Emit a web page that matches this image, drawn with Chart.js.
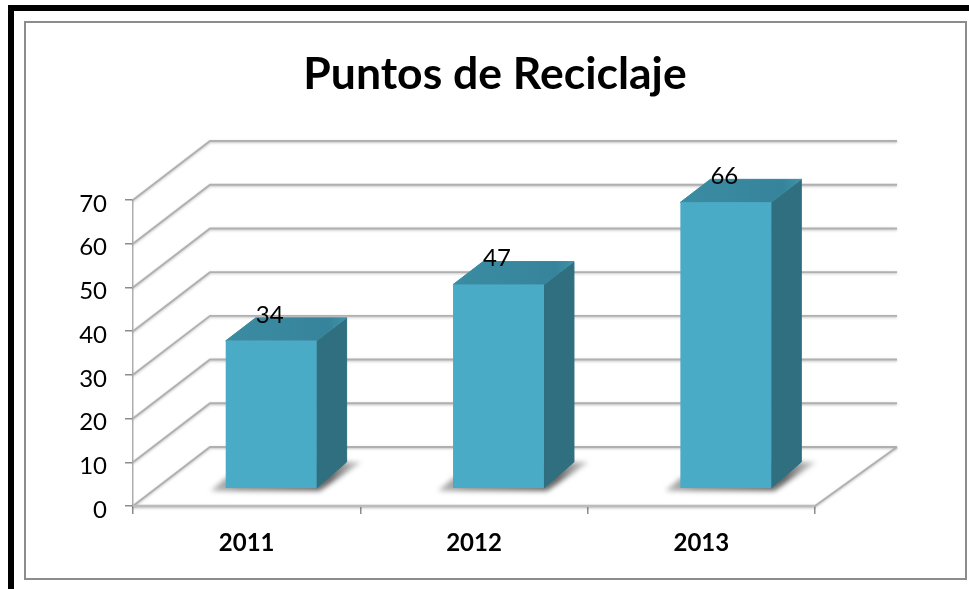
<!DOCTYPE html>
<html>
<head>
<meta charset="utf-8">
<style>
html,body{margin:0;padding:0;background:#fff;width:969px;height:589px;overflow:hidden}
#outerTop{position:absolute;left:8px;top:5px;width:961px;height:6px;background:#000}
#outerLeft{position:absolute;left:8px;top:5px;width:6px;height:584px;background:#000}
#frame{position:absolute;left:24px;top:21px;width:939px;height:555px;border:2px solid #8c8c8c}
canvas{position:absolute;left:0;top:0;display:block}
</style>
</head>
<body>
<div id="outerTop"></div><div id="outerLeft"></div><div id="frame"></div>
<canvas id="c" width="969" height="589"></canvas>
<script src="https://cdn.jsdelivr.net/npm/chart.js@4/dist/chart.umd.min.js"></script>
<script>
const categories = ['2011', '2012', '2013'];
const values = [34, 47, 66];
const chartTitle = 'Puntos de Reciclaje';

const FONT = 'Lato, Carlito, sans-serif';
const WALL = {left: 77, right: 82, up: 59};
const PLANE = {x: 24.5, y: -18};
const DEPTH = {x: 30, top: 23, bottom: 26};

const wallPlugin = {
  id: 'wall',
  beforeDatasetsDraw(chart) {
    const ctx = chart.ctx, a = chart.chartArea, y = chart.scales.y;
    ctx.save();
    ctx.lineWidth = 1.9;
    ctx.strokeStyle = '#b0b0b0';
    ctx.shadowColor = 'rgba(0,0,0,0.25)';
    ctx.shadowBlur = 2.5;
    ctx.shadowOffsetY = 1;
    y.ticks.forEach(t => {
      const py = y.getPixelForValue(t.value);
      ctx.beginPath();
      ctx.moveTo(a.left, py);
      ctx.lineTo(a.left + WALL.left, py - WALL.up);
      ctx.lineTo(a.right + WALL.right, py - WALL.up);
      ctx.stroke();
    });
    ctx.beginPath();
    ctx.moveTo(a.right, a.bottom);
    ctx.lineTo(a.right + WALL.right, a.bottom - WALL.up);
    ctx.stroke();
    ctx.lineWidth = 2.4;
    ctx.strokeStyle = '#bcbcbc';
    ctx.beginPath();
    ctx.moveTo(a.left, a.bottom);
    ctx.lineTo(a.right, a.bottom);
    ctx.stroke();
    ctx.restore();

    const meta = chart.getDatasetMeta(0);
    meta.data.forEach(b => {
      const half = b.width / 2;
      const L = b.x - half + PLANE.x, R = b.x + half + PLANE.x;
      const T = b.y + PLANE.y, B = b.base + PLANE.y;
      // floor shadow
      ctx.save();
      ctx.filter = 'blur(2.5px)';
      const g = ctx.createLinearGradient(L - 16, 0, R + 44, 0);
      g.addColorStop(0, 'rgba(130,130,130,0.55)');
      g.addColorStop(0.2, 'rgba(120,120,120,0.8)');
      g.addColorStop(0.8, 'rgba(85,85,85,0.9)');
      g.addColorStop(1, 'rgba(150,150,150,0.45)');
      ctx.fillStyle = g;
      ctx.beginPath();
      ctx.moveTo(L - 15, B + 3);
      ctx.lineTo(R + 3, B + 3);
      ctx.lineTo(R + DEPTH.x + 15, B - DEPTH.bottom);
      ctx.lineTo(R, B - DEPTH.bottom);
      ctx.lineTo(L, B - 10);
      ctx.closePath();
      ctx.fill();
      ctx.restore();
      // side face
      ctx.lineJoin = 'round';
      ctx.lineWidth = 1;
      ctx.fillStyle = ctx.strokeStyle = '#2f6f80';
      ctx.beginPath();
      ctx.moveTo(R, T);
      ctx.lineTo(R + DEPTH.x, T - DEPTH.top);
      ctx.lineTo(R + DEPTH.x, B - DEPTH.bottom);
      ctx.lineTo(R, B);
      ctx.closePath();
      ctx.fill();
      ctx.stroke();
      // top face
      const tg = ctx.createLinearGradient(L, 0, R + DEPTH.x, 0);
      tg.addColorStop(0, '#3a8ca3');
      tg.addColorStop(0.85, '#36849b');
      tg.addColorStop(1, '#3f93aa');
      ctx.fillStyle = ctx.strokeStyle = tg;
      ctx.beginPath();
      ctx.moveTo(L, T);
      ctx.lineTo(L + DEPTH.x, T - DEPTH.top);
      ctx.lineTo(R + DEPTH.x, T - DEPTH.top);
      ctx.lineTo(R, T);
      ctx.closePath();
      ctx.fill();
      ctx.stroke();
    });
  },
  beforeDatasetDraw(chart) {
    chart.ctx.save();
    chart.ctx.translate(PLANE.x, PLANE.y);
  },
  afterDatasetDraw(chart) {
    chart.ctx.restore();
  },
  afterDatasetsDraw(chart) {
    const ctx = chart.ctx, meta = chart.getDatasetMeta(0);
    ctx.save();
    ctx.fillStyle = '#000';
    ctx.font = '24px ' + FONT;
    ctx.textAlign = 'center';
    ctx.textBaseline = 'middle';
    meta.data.forEach((b, i) => {
      ctx.fillText(String(values[i]), b.x + PLANE.x - 1.5, b.y + PLANE.y - 26);
    });
    ctx.restore();
  }
};

new Chart(document.getElementById('c'), {
  type: 'bar',
  data: {
    labels: categories,
    datasets: [{
      data: values,
      yAxisID: 'yBars',
      backgroundColor: '#4aabc6',
      borderWidth: 0,
      barPercentage: 0.4,
      categoryPercentage: 1,
      clip: false
    }]
  },
  options: {
    responsive: false,
    animation: false,
    layout: {padding: {left: 21, right: 0, top: 0, bottom: 0}},
    plugins: {
      legend: {display: false},
      tooltip: {enabled: false},
      title: {
        display: true,
        text: chartTitle,
        color: '#000',
        font: {family: FONT, size: 44.5, weight: 'bold', lineHeight: 1.2},
        padding: {top: 48, bottom: 98.6}
      }
    },
    scales: {
      x: {
        offset: true,
        afterFit: s => { s.height = 83; },
        grid: {drawOnChartArea: false, drawTicks: true, tickLength: 8, color: '#8c8c8c', lineWidth: 1.5},
        border: {display: false},
        ticks: {color: '#000', padding: 15, maxRotation: 0, font: {family: FONT, size: 24, weight: 'bold'}}
      },
      y: {
        position: 'left',
        min: 0,
        max: 70,
        afterFit: s => { s.width = 112; },
        grid: {drawOnChartArea: false, drawTicks: true, tickLength: 8, color: '#8c8c8c', lineWidth: 1.5},
        border: {display: true, color: '#adadad', width: 1.5},
        ticks: {color: '#000', stepSize: 10, padding: 18, labelOffset: 4, font: {family: FONT, size: 24}}
      },
      yBars: {
        position: 'right',
        min: 0,
        max: 70.7,
        afterFit: s => { s.width = 154; },
        grid: {display: false},
        border: {display: false},
        ticks: {display: false}
      }
    }
  },
  plugins: [wallPlugin]
});
</script>
</body>
</html>
